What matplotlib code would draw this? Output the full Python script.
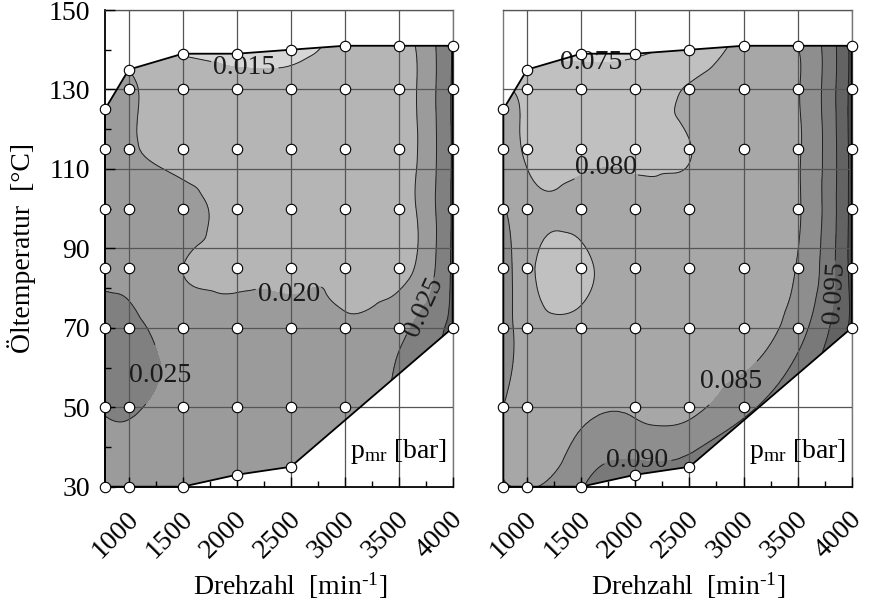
import numpy as np
import matplotlib
matplotlib.use('Agg')
import matplotlib.pyplot as plt
import matplotlib.tri as mtri
import matplotlib.transforms as mtransforms
from matplotlib.patches import Polygon
from matplotlib.ticker import MultipleLocator

plt.rcParams['font.family'] = ['Liberation Serif', 'DejaVu Serif']
plt.rcParams['mathtext.fontset'] = 'custom'
plt.rcParams['mathtext.rm'] = 'Liberation Serif'
plt.rcParams['mathtext.it'] = 'Liberation Serif:italic'

# Messpunkte: Drehzahl [min-1] und Öltemperatur [°C]
drehzahl = np.array([
    780, 780, 780, 780, 780, 780, 780,
    1000, 1000, 1000, 1000, 1000, 1000, 1000, 1000,
    1500, 1500, 1500, 1500, 1500, 1500, 1500, 1500,
    2000, 2000, 2000, 2000, 2000, 2000, 2000, 2000,
    2500, 2500, 2500, 2500, 2500, 2500, 2500, 2500,
    3000, 3000, 3000, 3000, 3000, 3000, 3000,
    3500, 3500, 3500, 3500, 3500, 3500,
    4000, 4000, 4000, 4000, 4000, 4000], dtype=float)
temperatur = np.array([
    30, 50, 70, 85, 100, 115, 125,
    30, 50, 70, 85, 100, 115, 130, 135,
    30, 50, 70, 85, 100, 115, 130, 139,
    33, 50, 70, 85, 100, 115, 130, 139,
    35, 50, 70, 85, 100, 115, 130, 140,
    50, 70, 85, 100, 115, 130, 141,
    70, 85, 100, 115, 130, 141,
    70, 85, 100, 115, 130, 141], dtype=float)

# Reibmitteldruck pmr [bar] an den Messpunkten (nan = kein Messpunkt)
nan = np.nan
pmr_links = np.array([
    0.0230, 0.0255, 0.0270, 0.0240, 0.0228, 0.0220, 0.0215,
    0.0230, 0.0256, 0.0262, 0.0238, 0.0228, 0.0208, 0.0207, 0.0200,
    0.0222, 0.0225, 0.0228, 0.0200, 0.0214, 0.0180, 0.0178, 0.0147,
    0.0225, 0.0220, 0.0215, 0.0192, 0.0186, 0.0170, 0.0162, 0.0138,
    0.0225, 0.0220, 0.0212, 0.0192, 0.0180, 0.0172, 0.0162, 0.0140,
    0.0222, 0.0205, 0.0190, 0.0182, 0.0178, 0.0172, 0.0163,
    0.0235, 0.0180, 0.0175, 0.0172, 0.0174, 0.0178,
    0.0312, 0.0308, 0.0306, 0.0305, 0.0306, 0.0304])
pmr_rechts = np.array([
    0.0852, 0.0850, 0.0868, 0.0875, 0.0853, 0.0825, 0.0815,
    0.0849, 0.0830, 0.0828, 0.0815, 0.0818, 0.0793, 0.0788, 0.0772,
    0.0895, nan, 0.0815, 0.0788, 0.0815, 0.0780, 0.0770, 0.0738,
    0.0920, 0.0840, 0.0820, 0.0825, 0.0818, 0.0790, 0.0778, 0.0745,
    0.0920, 0.0838, 0.0830, 0.0815, 0.0812, 0.0799, 0.0803, 0.0770,
    0.0885, 0.0830, 0.0825, nan, 0.0825, 0.0825, 0.0815,
    0.0878, 0.0853, 0.0845, 0.0845, 0.0847, 0.0850,
    0.1010, 0.1015, 0.1015, 0.1015, 0.1015, 0.1012])

# Rand des Kennfelds
rand_drehzahl = [780, 1000, 1500, 2000, 2500, 4000, 4000, 3500, 3000, 2500, 2000, 1500, 1000, 780]
rand_temp = [30, 30, 30, 33, 35, 70, 141, 141, 141, 140, 139, 139, 135, 125]

stufen_links = [0.015, 0.020, 0.025, 0.030]
stufen_rechts = [0.075, 0.080, 0.085, 0.090, 0.095, 0.100]
farben_links = ['#d6d6d6', '#b5b5b5', '#9b9b9b', '#808080', '#636363']
farben_rechts = ['#d6d6d6', '#c0c0c0', '#a7a7a7', '#8e8e8e', '#797979', '#636363', '#4f4f4f']

# Beschriftungen der Isolinien (Lage, waagerecht ja/nein)
labels_links = [((2068, 134), True), ((2494, 80), True), ((1281, 58), True), ((3745, 75), False)]
labels_rechts = [((1586, 134), True), ((1734, 109), True), ((2873, 57), True),
                 ((2031, 39), True), ((3826, 79), False)]

SX, SY = 500.0, 13.6


def feld(z):
    ok = ~np.isnan(z)
    tri = mtri.Triangulation(drehzahl[ok] / SX, temperatur[ok] / SY)
    interp = mtri.CubicTriInterpolator(tri, z[ok], kind='min_E')
    tri_f, z_f = mtri.UniformTriRefiner(tri).refine_field(z[ok], triinterpolator=interp, subdiv=4)
    return mtri.Triangulation(tri_f.x * SX, tri_f.y * SY, tri_f.triangles), z_f, ok


def panel(ax, z, stufen, farben, labels, links):
    tri, zf, ok = feld(z)
    poly = Polygon(np.column_stack([rand_drehzahl, rand_temp]), closed=True,
                   transform=ax.transData, facecolor='none', edgecolor='none')
    cf = ax.tricontourf(tri, zf, levels=[-1] + stufen + [1], colors=farben, zorder=1)
    cf.set_clip_path(poly)
    cl = ax.tricontour(tri, zf, levels=stufen, colors='#202020', linewidths=0.7, zorder=2)
    cl.set_clip_path(poly)
    texte = cl.clabel(levels=stufen, manual=[p for p, _ in labels], fmt='%.3f',
                      inline=True, inline_spacing=3, fontsize=20, colors='#1a1a1a')
    for t in texte:
        x, y = t.get_position()
        for (px, py), flach in labels:
            if flach and abs(px - x) < 400 and abs(py - y) < 12:
                t.set_rotation(0)

    ax.plot(rand_drehzahl + [rand_drehzahl[0]], rand_temp + [rand_temp[0]],
            color='black', lw=1.3, zorder=4, clip_on=False)
    ax.plot(drehzahl[ok], temperatur[ok], 'o', ms=7.5, mfc='white', mec='black',
            mew=0.8, zorder=5, clip_on=False)

    ax.set_xlim(780, 4000)
    ax.set_ylim(30, 150)
    ax.set_xticks([1000, 1500, 2000, 2500, 3000, 3500, 4000])
    ax.xaxis.set_minor_locator(MultipleLocator(250))
    ax.set_yticks([30, 50, 70, 90, 110, 130, 150])
    ax.yaxis.set_minor_locator(MultipleLocator(10))
    ax.set_axisbelow(False)
    ax.grid(True, which='major', color='#555555', lw=0.9)
    ax.tick_params(which='both', direction='in', width=1, labelsize=20)
    ax.tick_params(which='major', length=7)
    ax.tick_params(which='minor', length=4.5)
    ax.tick_params(axis='x', pad=14.5)
    ax.tick_params(axis='y', pad=11)
    off = mtransforms.ScaledTranslation(0.15, 0, ax.figure.dpi_scale_trans)
    for lab in ax.get_xticklabels():
        lab.set_rotation(45)
        lab.set_ha('right')
        lab.set_va('top')
        lab.set_transform(lab.get_transform() + off)

    for s in ['top', 'right']:
        ax.spines[s].set_color('#777777')
        ax.spines[s].set_linewidth(1.0)
    ax.spines['bottom'].set_color('black')
    ax.spines['bottom'].set_linewidth(1.3)
    if links:
        ax.spines['left'].set_color('black')
        ax.spines['left'].set_linewidth(1.3)
    else:
        ax.spines['left'].set_color('#777777')
        ax.spines['left'].set_linewidth(1.0)
        ax.tick_params(axis='y', which='both', left=False, labelleft=False)

    ax.text(0.983, 0.06, 'p$_{\\mathregular{mr}}$ [bar]', transform=ax.transAxes,
            ha='right', va='baseline', fontsize=20)


fig = plt.figure(figsize=(8.69, 6.03), dpi=100)
ax1 = fig.add_axes([0.1208, 0.1929, 0.4001, 0.7905])
ax2 = fig.add_axes([0.5792, 0.1929, 0.4009, 0.7905])

panel(ax1, pmr_links, stufen_links, farben_links, labels_links, True)
panel(ax2, pmr_rechts, stufen_rechts, farben_rechts, labels_rechts, False)

fig.text(22 / 869, 1 - 248 / 603, 'Öltemperatur  [°C]', rotation=90,
         ha='center', va='center', fontsize=20)
for xc in [290, 688]:
    fig.text(xc / 869, 1 - 595 / 603, 'Drehzahl  [min$^{\\mathregular{\u2010 1}}$]',
             ha='center', va='baseline', fontsize=20)

fig.savefig('out.png', dpi=100)
